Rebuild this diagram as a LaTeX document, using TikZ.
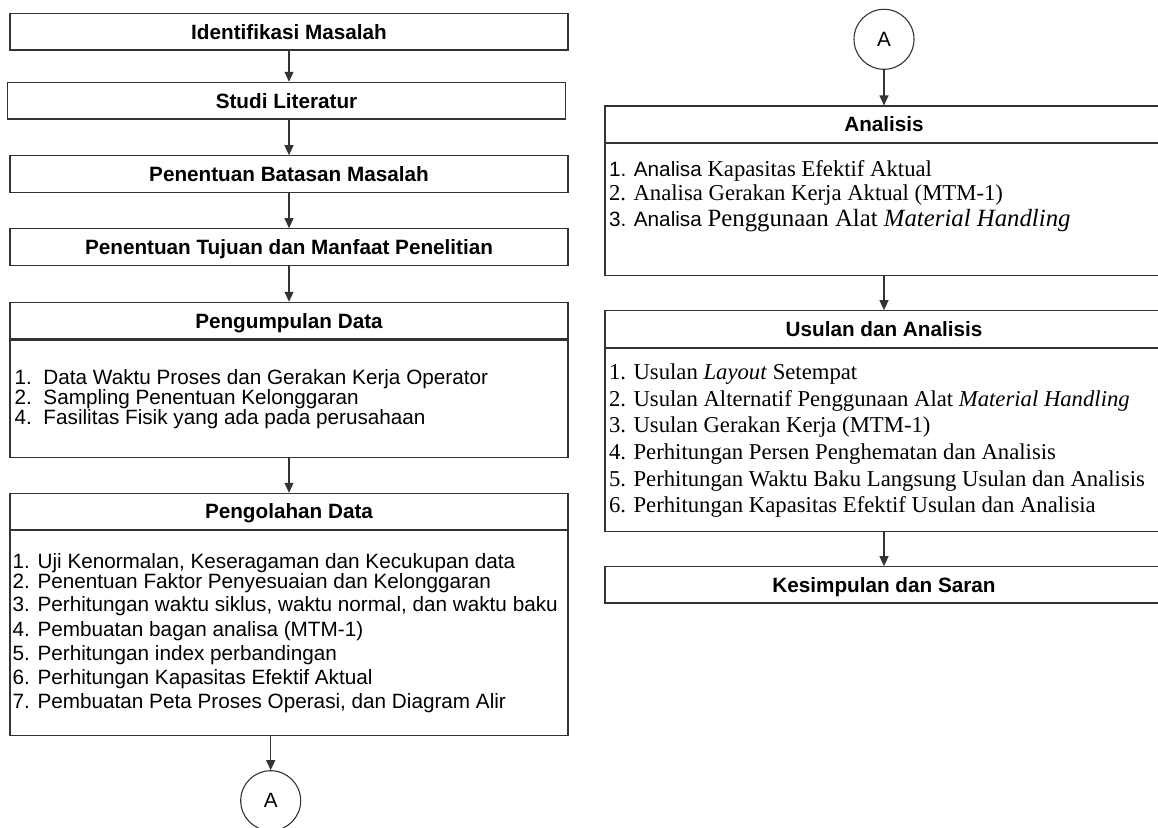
\documentclass[tikz,border=0pt]{standalone}
\usepackage{fontspec}
\setmainfont{Liberation Sans}
\newfontfamily\tms{Liberation Serif}
\usetikzlibrary{arrows.meta}
\begin{document}
\begin{tikzpicture}[x=1pt,y=-1pt,
  ln/.style={draw=black!80, line width=1.1pt},
  hdr/.style={ln, rectangle, minimum width=558pt, inner sep=0pt, text height=14.8pt, text depth=0pt, font=\fontsize{20.7}{24}\selectfont\bfseries},
  bodybox/.style={ln, rectangle, minimum width=558pt, inner sep=0pt, anchor=north},
  ar/.style={ln, -{Triangle[width=9pt,length=10pt]}},
  sline/.style={anchor=base west, inner sep=0pt, font=\fontsize{20.7}{24}\selectfont},
  tline/.style={anchor=base west, inner sep=0pt, font=\fontsize{22.7}{26}\selectfont\tms},
  conn/.style={ln, circle, minimum size=60pt, inner sep=0pt, font=\fontsize{20.7}{24}\selectfont},
]
\useasboundingbox (0,0) rectangle (1158,827);

% ---------------- left column ----------------
\node[hdr, minimum height=36.7pt] (b1) at (289,31.65) {Identifikasi Masalah};
\node[hdr, minimum height=36.7pt, minimum width=558.4pt] (b2) at (286.5,100.65) {Studi Literatur};
\node[hdr, minimum height=36.6pt] (b3) at (289,174) {Penentuan Batasan Masalah};
\node[hdr, minimum height=36.6pt] (b4) at (289,247) {Penentuan Tujuan dan Manfaat Penelitian};

\node[hdr, minimum height=36.7pt] (p1h) at (289,320.65) {Pengumpulan Data};
\node[bodybox, minimum height=117pt] (p1b) at (p1h.south) {};
\node[sline] (p1l1) at (14.5,384) {\makebox[28.8pt][l]{1.}Data Waktu Proses dan Gerakan Kerja Operator};
\node[sline] (p1l2) at (14.5,404) {\makebox[28.8pt][l]{2.}Sampling Penentuan Kelonggaran};
\node[sline] (p1l3) at (14.5,424) {\makebox[28.8pt][l]{4.}Fasilitas Fisik yang ada pada perusahaan};

\node[hdr, minimum height=36pt] (p2h) at (289,511.3) {Pengolahan Data};
\node[bodybox, minimum height=205.2pt] (p2b) at (p2h.south) {};
\node[sline] (p2l1) at (12.5,568) {1. Uji Kenormalan, Keseragaman dan Kecukupan data};
\node[sline] (p2l2) at (12.5,588) {2. Penentuan Faktor Penyesuaian dan Kelonggaran};
\node[sline] (p2l3) at (12.5,611.5) {3. Perhitungan waktu siklus, waktu normal, dan waktu baku};
\node[sline] (p2l4) at (12.5,636) {4. Pembuatan bagan analisa (MTM-1)};
\node[sline] (p2l5) at (12.5,660) {5. Perhitungan index perbandingan};
\node[sline] (p2l6) at (12.5,684) {6. Perhitungan Kapasitas Efektif Aktual};
\node[sline] (p2l7) at (12.5,708) {7. Pembuatan Peta Proses Operasi, dan Diagram Alir};

\node[conn] (cA1) at (270.7,800.7) {A};

\draw[ar] (b1.south) -- (b1.south |- b2.north);
\draw[ar] (b1.south |- b2.south) -- (b3.north);
\draw[ar] (b3.south) -- (b4.north);
\draw[ar] (b4.south) -- (p1h.north);
\draw[ar] (p1b.south) -- (p2h.north);
\draw[ar] (cA1 |- p2b.south) -- (cA1.north);

% ---------------- right column ----------------
\node[conn] (cA2) at (884,39.3) {A};

\node[hdr, minimum height=36.7pt] (r1h) at (884,124.35) {Analisis};
\node[bodybox, minimum height=131.3pt] (r1b) at (r1h.south) {};
\node[sline] (r1l1) at (608.8,176.5) {1. Analisa {\fontsize{22.7}{26}\selectfont\tms Kapasitas Efektif Aktual}};
\node[tline] (r1l2) at (608.8,200) {2. Analisa Gerakan Kerja Aktual (MTM-1)};
\node[sline] (r1l3) at (608.8,226.5) {3. Analisa {\fontsize{24.8}{28}\selectfont\tms Penggunaan Alat \textit{Material Handling}}};

\node[hdr, minimum height=36.8pt] (r2h) at (884,329.1) {Usulan dan Analisis};
\node[bodybox, minimum height=182.5pt] (r2b) at (r2h.south) {};
\node[tline] (r2l1) at (608.8,379.5) {1. Usulan \textit{Layout} Setempat};
\node[tline] (r2l2) at (608.8,406) {2. Usulan Alternatif Penggunaan Alat \textit{Material Handling}};
\node[tline] (r2l3) at (608.8,432.5) {3. Usulan Gerakan Kerja (MTM-1)};
\node[tline] (r2l4) at (608.8,459.5) {4. Perhitungan Persen Penghematan dan Analisis};
\node[tline] (r2l5) at (608.8,486) {5. Perhitungan Waktu Baku Langsung Usulan dan Analisis};
\node[tline] (r2l6) at (608.8,512.5) {6. Perhitungan Kapasitas Efektif Usulan dan Analisia};

\node[hdr, minimum height=36.3pt] (r3) at (884,584.85) {Kesimpulan dan Saran};

\draw[ar] (cA2.south) -- (r1h.north);
\draw[ar] (r1b.south) -- (r2h.north);
\draw[ar] (r2b.south) -- (r3.north);
\end{tikzpicture}
\end{document}
